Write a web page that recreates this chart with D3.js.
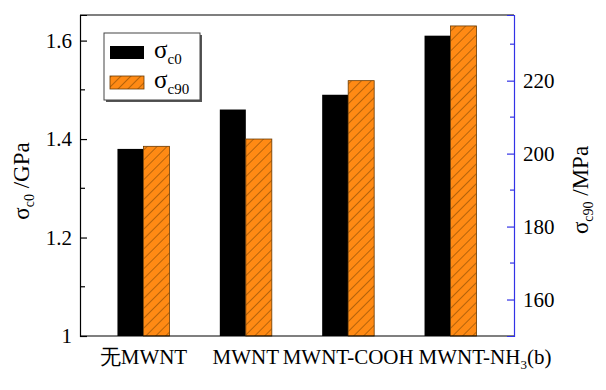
<!DOCTYPE html>
<html>
<head>
<meta charset="utf-8">
<script src="https://cdn.jsdelivr.net/npm/d3@7"></script>
<style>
  body { margin: 0; background: #fff; }
</style>
</head>
<body>
<div id="chart"></div>
<script>
const categories = ['无MWNT', 'MWNT', 'MWNT-COOH', 'MWNT-NH3'];
const sigmaC0 = [1.38, 1.46, 1.49, 1.61];     // GPa, left axis
const sigmaC90 = [202, 204, 220, 235];        // MPa, right axis
const leftTicks = [1, 1.2, 1.4, 1.6];
const leftMinor = [1.1, 1.3, 1.5];
const rightTicks = [160, 180, 200, 220];
const rightMinor = [170, 190, 210, 230];

const width = 606, height = 390;
const margin = { top: 15, right: 92, bottom: 54, left: 80 };
const mwidth = width - margin.left - margin.right;
const mheight = height - margin.top - margin.bottom;
const font = 'Liberation Serif';
const blue = '#3232e6';
const orange = '#ff8a14';
const barW = 26;

const svg = d3.select('#chart').append('svg')
    .attr('width', width)
    .attr('height', height)
    .attr('font-family', font);

const defs = svg.append('defs');
const pat = defs.append('pattern')
    .attr('id', 'hatch')
    .attr('patternUnits', 'userSpaceOnUse')
    .attr('width', 7).attr('height', 7)
    .attr('patternTransform', 'rotate(45)');
pat.append('rect').attr('width', 7).attr('height', 7).attr('fill', orange);
pat.append('line')
    .attr('x1', 0).attr('y1', 0).attr('x2', 0).attr('y2', 7)
    .attr('stroke', '#5a3200').attr('stroke-width', 0.9);

const xScale = d3.scalePoint()
    .domain(categories)
    .range([0, mwidth])
    .padding(0.62);
const yLeft = d3.scaleLinear().domain([1, 1.652]).range([mheight, 0]);
const yRight = d3.scaleLinear().domain([150, 238]).range([mheight, 0]);

const g = svg.append('g')
    .attr('transform', 'translate(' + margin.left + ',' + margin.top + ')');

// bars
g.selectAll('.bar0')
    .data(sigmaC0)
    .enter().append('rect')
    .attr('class', 'bar0')
    .attr('x', (d, i) => xScale(categories[i]) - barW)
    .attr('y', d => yLeft(d))
    .attr('width', barW)
    .attr('height', d => mheight - yLeft(d))
    .attr('fill', '#000');

g.selectAll('.bar90')
    .data(sigmaC90)
    .enter().append('rect')
    .attr('class', 'bar90')
    .attr('x', (d, i) => xScale(categories[i]))
    .attr('y', d => yRight(d))
    .attr('width', barW)
    .attr('height', d => mheight - yRight(d))
    .attr('fill', 'url(#hatch)')
    .attr('stroke', '#6a3a00')
    .attr('stroke-width', 0.8);

// frame: top and bottom
g.append('line').attr('x1', 0).attr('x2', mwidth).attr('y1', 0).attr('y2', 0)
    .attr('stroke', '#000').attr('stroke-width', 1.2);
g.append('line').attr('x1', 0).attr('x2', mwidth).attr('y1', mheight).attr('y2', mheight)
    .attr('stroke', '#000').attr('stroke-width', 1.2);

// left axis
const leftAxis = d3.axisRight(yLeft).tickValues(leftTicks).tickSize(7)
    .tickFormat(d => d === 1 ? '1' : d3.format('.1f')(d));
const gl = g.append('g').call(leftAxis)
    .attr('font-family', font).attr('font-size', 21);
gl.select('.domain').attr('stroke', '#000').attr('stroke-width', 1.2);
gl.selectAll('.tick line').attr('stroke', '#000').attr('stroke-width', 1.2);
gl.selectAll('.tick text')
    .attr('x', -8).attr('text-anchor', 'end').attr('fill', '#000');
g.selectAll('.lminor').data(leftMinor).enter().append('line')
    .attr('x1', 0).attr('x2', 5)
    .attr('y1', d => yLeft(d)).attr('y2', d => yLeft(d))
    .attr('stroke', '#000').attr('stroke-width', 1.2);

// right axis
const rightAxis = d3.axisLeft(yRight).tickValues(rightTicks).tickSize(7);
const gr = g.append('g').attr('transform', 'translate(' + mwidth + ',0)').call(rightAxis)
    .attr('font-family', font).attr('font-size', 21);
gr.select('.domain').attr('stroke', blue).attr('stroke-width', 1.2);
gr.selectAll('.tick line').attr('stroke', blue).attr('stroke-width', 1.2);
gr.selectAll('.tick text')
    .attr('x', 9).attr('text-anchor', 'start').attr('fill', '#000');
gr.selectAll('.rminor').data(rightMinor).enter().append('line')
    .attr('x1', 0).attr('x2', -4)
    .attr('y1', d => yRight(d)).attr('y2', d => yRight(d))
    .attr('stroke', blue).attr('stroke-width', 1.2);

// x labels
const xl = g.selectAll('.xlab').data(categories).enter().append('text')
    .attr('class', 'xlab')
    .attr('x', d => xScale(d))
    .attr('y', mheight + 28)
    .attr('text-anchor', (d, i) => i === 3 ? 'start' : 'middle')
    .attr('dx', (d, i) => i === 3 ? -32 : 0)
    .attr('font-size', 21);
xl.each(function(d, i) {
    const t = d3.select(this);
    if (i === 3) {
        t.append('tspan').text('MWNT-NH');
        t.append('tspan').attr('dy', 5).attr('font-size', 13).text('3');
        t.append('tspan').attr('dy', -5).text('(b)');
    } else {
        t.text(d);
    }
});

// axis titles
function sigmaTitle(sel, sub, unit) {
    sel.append('tspan').text('σ');
    sel.append('tspan').attr('dy', 5).attr('font-size', 14).text(sub);
    sel.append('tspan').attr('dy', -5).text(' /' + unit);
}
svg.append('text')
    .attr('transform', 'translate(29,181) rotate(-90)')
    .attr('text-anchor', 'middle')
    .attr('font-size', 23)
    .call(sigmaTitle, 'c0', 'GPa');
svg.append('text')
    .attr('transform', 'translate(588,190) rotate(-90)')
    .attr('text-anchor', 'middle')
    .attr('font-size', 23)
    .call(sigmaTitle, 'c90', 'MPa');

// legend
const legend = svg.append('g').attr('transform', 'translate(104,33)');
legend.append('rect').attr('x', 2).attr('y', 2).attr('width', 96).attr('height', 67).attr('fill', '#555');
legend.append('rect').attr('width', 96).attr('height', 67).attr('fill', '#fff')
    .attr('stroke', '#444').attr('stroke-width', 1);
const legItems = [
    { sub: 'c0', fill: '#000', stroke: 'none' },
    { sub: 'c90', fill: 'url(#hatch)', stroke: '#6a3a00' }
];
legItems.forEach((it, i) => {
    legend.append('rect')
        .attr('x', 6).attr('y', 13 + i * 30)
        .attr('width', 34).attr('height', 13)
        .attr('fill', it.fill).attr('stroke', it.stroke).attr('stroke-width', 0.8);
    const t = legend.append('text')
        .attr('x', 50).attr('y', 25 + i * 30)
        .attr('font-size', 25);
    t.append('tspan').text('σ');
    t.append('tspan').attr('dy', 6).attr('font-size', 15).text(it.sub);
});
</script>
</body>
</html>
